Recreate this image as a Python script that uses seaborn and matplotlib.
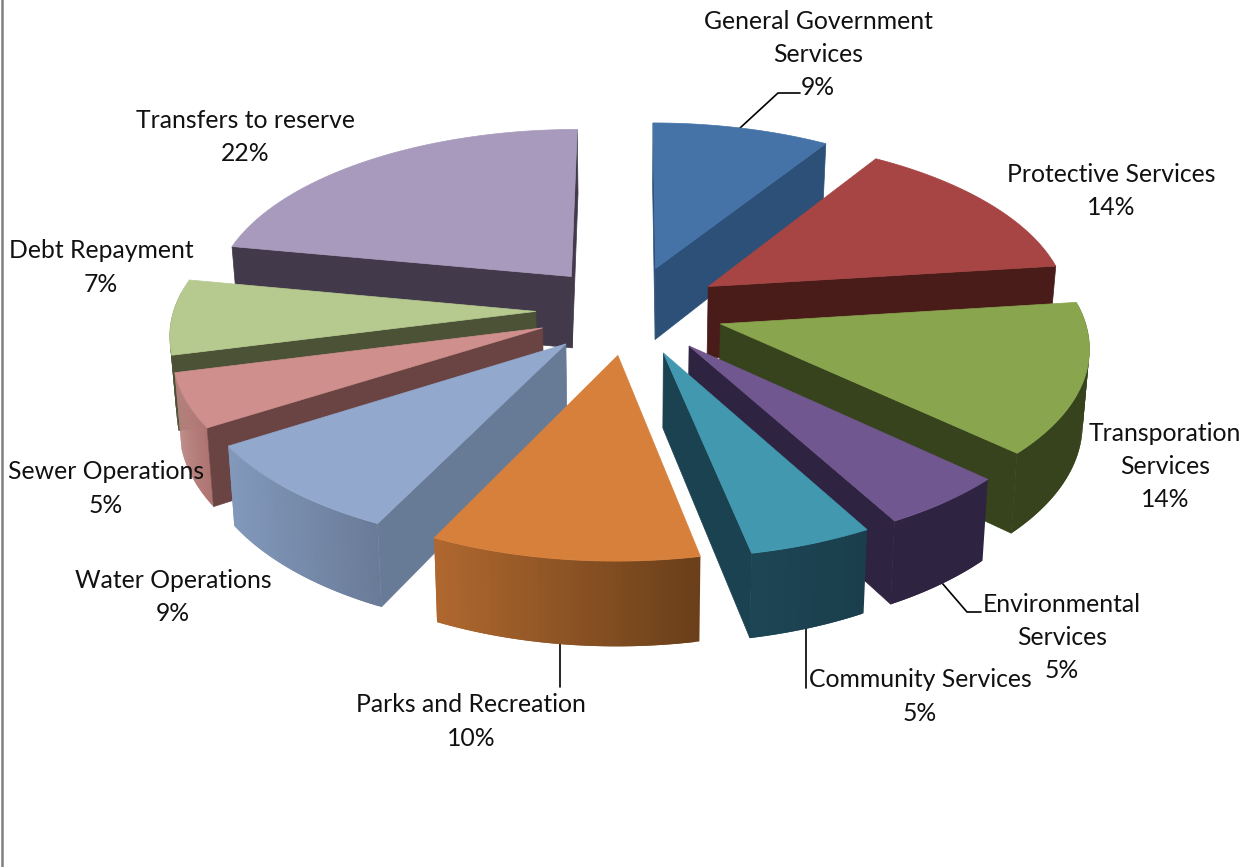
import numpy as np
import matplotlib
matplotlib.use("Agg")
import matplotlib.pyplot as plt
import seaborn as sns
from matplotlib.colors import to_rgb
from matplotlib.patches import Polygon

sns.set_theme(style="white")
plt.rcParams['font.family'] = ['Lato', 'DejaVu Sans']

categories = ["General Government\nServices", "Protective Services", "Transporation\nServices",
              "Environmental\nServices", "Community Services", "Parks and Recreation",
              "Water Operations", "Sewer Operations", "Debt Repayment", "Transfers to reserve"]
values = [9, 14, 14, 5, 4.8, 10.4, 8.8, 5, 7, 22]
top_colors = sns.color_palette(["#4572A7", "#A64543", "#89A54E", "#71578F", "#4198AF", "#D7803B",
                                "#92A8CD", "#CF8F8D", "#B6CA90", "#A89ABD"])
wall_colors = ["#2C5078", "#491B19", "#36431D", "#2E2340", "#1B4251", "#8A5226",
               "#677A96", "#6A4443", "#4C5235", "#423A4B"]
arc_light = ["#2C5078", "#491B19", "#36431D", "#2E2340", "#1D4655", "#B0682F",
             "#8299BC", "#BB8682", "#4C5235", "#423A4B"]
arc_dark = ["#2C5078", "#491B19", "#36431D", "#2E2340", "#1A3E4C", "#6A3F1A",
            "#6A7B98", "#AE7471", "#4C5235", "#423A4B"]
label_xy = [(818, 54.5), (1111, 191), (1165, 466.5), (1062, 637.5), (920, 696.5), (471, 721.5),
            (173, 597), (106, 488.5), (101, 267.5), (245, 137)]

W, H = 1246, 867
cx, cy, Rx, Ry, k, e, depth = 630, 310, 362, 171, 0.114, 0.26, 73

fig = plt.figure(figsize=(W / 100, H / 100), dpi=100)
ax = fig.add_axes([0, 0, 1, 1])
ax.set_xlim(0, W)
ax.set_ylim(H, 0)
ax.axis("off")


def project(u, v, z=0.0):
    d = 1 + k * v
    s = 1 - 0.015 * z
    x = cx + s * Rx * u / d
    y = cy - Ry * v / d + z * depth / d
    return x, y


def add_poly(pts, color, lw=0.5):
    ax.add_patch(Polygon(pts, closed=True, fc=color, ec=color if lw else "none", lw=lw, zorder=2))


fr = np.array(values, float) / sum(values) * 2 * np.pi
ends = np.cumsum(fr)
starts = ends - fr
mids = (starts + ends) / 2
order = np.argsort(-np.cos(mids))

for i in order:
    a0, a1, m = starts[i], ends[i], mids[i]
    ou, ov = e * np.sin(m), e * np.cos(m)
    th = np.linspace(a0, a1, 60)
    us, vs = ou + np.sin(th), ov + np.cos(th)
    tip = np.array(project(ou, ov))
    inner = np.array(project(ou + np.sin(m), ov + np.cos(m)))

    # outer wall, shaded from left to right on the screen
    c0, c1 = np.array(to_rgb(arc_light[i])), np.array(to_rgb(arc_dark[i]))
    xs = np.array([project(a, b)[0] for a, b in zip(us, vs)])
    span = max(xs.max() - xs.min(), 1)
    idx = [j for j in range(len(th) - 1) if np.cos(th[j]) < 0.1 or np.cos(th[j + 1]) < 0.1]
    for j in idx:
        f = (xs[j] - xs.min()) / span
        col = c0 + (c1 - c0) * f
        n = min(j + 3, len(th))
        pts = [project(us[q], vs[q]) for q in range(j, n)] + \
              [project(us[q], vs[q], 1) for q in range(n - 1, j - 1, -1)]
        add_poly(pts, col, lw=0)

    # radial walls, only those facing the viewer
    for t in (a0, a1):
        u, v = ou + np.sin(t), ov + np.cos(t)
        end = np.array(project(u, v))
        edge, to_in = end - tip, inner - tip
        side = (edge[0] * to_in[1] - edge[1] * to_in[0]) * np.sign(edge[0] if edge[0] else 1)
        if side < 0:
            add_poly([project(ou, ov), project(u, v), project(u, v, 1), project(ou, ov, 1)], wall_colors[i])

    # top face
    add_poly([project(ou, ov)] + [project(a, b) for a, b in zip(us, vs)], top_colors[i])

for name, val, (x, y) in zip(categories, values, label_xy):
    ax.text(x, y, f"{name}\n{round(val)}%", ha="center", va="center", fontsize=17.8,
            color="#111111", linespacing=1.53, zorder=3)

# leader lines
for xs, ys in [((740, 778, 800), (128, 93, 93)), ((942, 967, 981), (583, 612, 612)),
               ((806, 806), (627, 688)), ((560, 560), (640, 687))]:
    ax.plot(xs, ys, color="black", lw=1.2, zorder=1)

ax.plot([2, 2], [0, H], color="#808080", lw=1.8, zorder=1)

fig.savefig("out.png", dpi=100)
